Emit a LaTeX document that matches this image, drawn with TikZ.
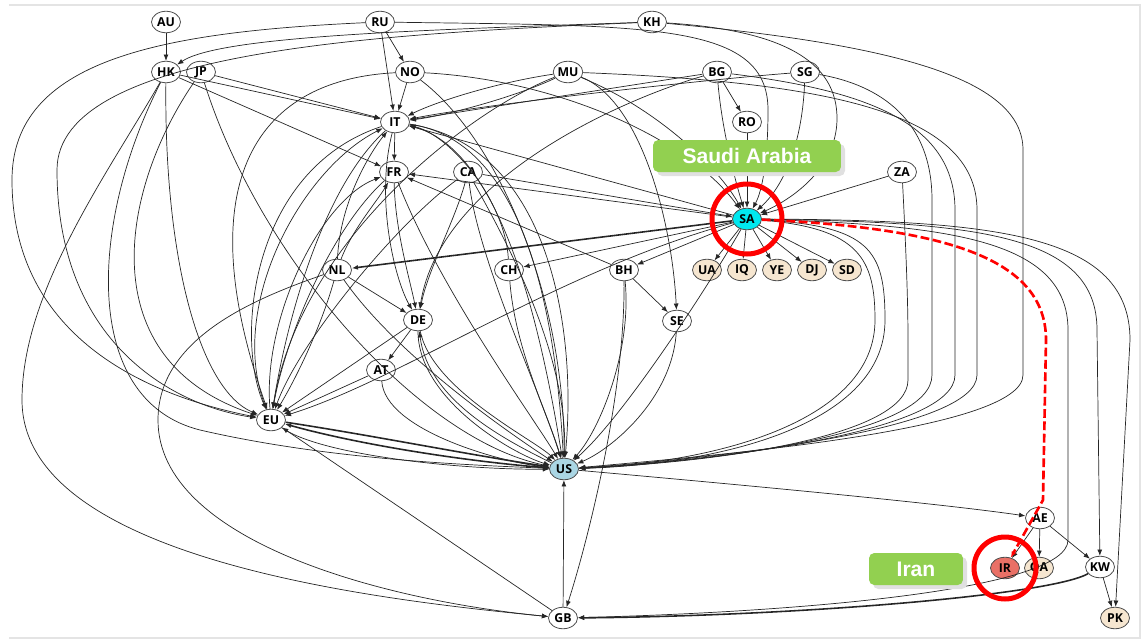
\documentclass[tikz,border=0pt]{standalone}
\usepackage{fontspec}
\setmainfont{Open Sans}
\newfontfamily\tagfont{Liberation Sans}
\usetikzlibrary{shapes.geometric, arrows.meta}
\definecolor{sacyan}{RGB}{0,232,240}
\definecolor{usblue}{RGB}{170,214,228}
\definecolor{irred}{RGB}{233,112,102}
\definecolor{paletan}{RGB}{246,230,208}
\definecolor{taggreen}{RGB}{146,208,80}
\definecolor{framegray}{RGB}{228,228,228}
\begin{document}
\begin{tikzpicture}[x=0.02cm, y=-0.02cm,
    country/.style={ellipse, draw=black!70, line width=0.45pt, fill=white,
        minimum width=0.58cm, minimum height=0.43cm, inner sep=0pt,
        font=\fontsize{7}{8}\selectfont\bfseries},
    tancountry/.style={country, fill=paletan},
    link/.style={-{Latex[length=3.6pt,width=2.8pt]}, line width=0.4pt, black!85},
    heavylink/.style={link, line width=0.9pt},
    tagbox/.style={fill=taggreen, rounded corners=3pt, text=white, inner sep=0pt,
        minimum height=0.64cm, font=\tagfont\fontsize{12}{14}\selectfont\bfseries},
    ring/.style={draw=red, line width=0.1cm},
    iranpath/.style={-{Latex[length=3.6pt,width=2.8pt]}, red, line width=1.5pt, dash pattern=on 5pt off 2pt}
]
    % Define page size (pixels of the reference)
    \useasboundingbox (0,0) rectangle (1147,643);
    \draw[framegray, line width=1.2pt] (9,5) -- (1140,5) -- (1140,638) -- (9,638);

    % Draw countries, row by row
    \node[country] (AU) at (166,22) {AU};
    \node[country] (RU) at (380,22) {RU};
    \node[country] (KH) at (652,22) {KH};
    \node[country] (HK) at (166,72) {HK};
    \node[country] (JP) at (201,72) {JP};
    \node[country] (NO) at (410,72) {NO};
    \node[country] (MU) at (568,72) {MU};
    \node[country] (BG) at (717,72) {BG};
    \node[country] (SG) at (805,72) {SG};
    \node[country] (IT) at (395,122) {IT};
    \node[country] (RO) at (747,122) {RO};
    \node[country] (FR) at (394,172) {FR};
    \node[country] (CA) at (468,172) {CA};
    \node[country] (ZA) at (902,172) {ZA};
    \node[country, fill=sacyan] (SA) at (747,219) {SA};
    \node[country] (NL) at (337,270) {NL};
    \node[country] (CH) at (509,270) {CH};
    \node[country] (BH) at (624,270) {BH};
    \node[tancountry] (UA) at (707,270) {UA};
    \node[tancountry] (IQ) at (742,270) {IQ};
    \node[tancountry] (YE) at (777,270) {YE};
    \node[tancountry] (DJ) at (812,270) {DJ};
    \node[tancountry] (SD) at (847,270) {SD};
    \node[country] (DE) at (418,320) {DE};
    \node[country] (SE) at (677,321) {SE};
    \node[country] (AT) at (381,370) {AT};
    \node[country] (EU) at (271,420) {EU};
    \node[country, fill=usblue] (US) at (564,469) {US};
    \node[country] (AE) at (1040,518) {AE};
    \node[country, fill=irred] (IR) at (1005,568) {IR};
    \node[tancountry] (QA) at (1039,568) {QA};
    \node[country] (KW) at (1100,567) {KW};
    \node[country] (GB) at (563,618) {GB};
    \node[tancountry] (PK) at (1115,618) {PK};

    % Top row
    \draw[link] (AU) -- (HK);
    \draw[link] (RU) -- (NO);
    \draw[link] (RU) -- (IT);
    \draw[link] (KH) .. controls (420,30) and (220,36) .. (HK);
    \draw[link] (RU) .. controls (160,32) and (12,60) .. (12,180) .. controls (12,350) and (170,400) .. (EU);
    \draw[link] (KH) .. controls (380,34) and (57,50) .. (57,170) .. controls (57,340) and (170,405) .. (EU);
    \draw[link] (RU) .. controls (650,26) and (768,22) .. (768,110) .. controls (768,170) and (760,195) .. (SA);
    \draw[link] (KH) .. controls (780,30) and (838,60) .. (837,120) .. controls (836,170) and (790,200) .. (SA);
    \draw[link] (KH) .. controls (900,45) and (1023,80) .. (1023,150) -- (1023,375) .. controls (1023,430) and (720,455) .. (US);

    % Second row
    \draw[link] (HK) -- (IT);
    \draw[link] (HK) -- (FR);
    \draw[link] (JP) -- (IT);
    \draw[link] (HK) .. controls (110,170) and (22,290) .. (22,400) .. controls (22,560) and (380,600) .. (GB);
    \draw[link] (HK) .. controls (164,260) and (200,390) .. (EU);
    \draw[link] (JP) .. controls (120,190) and (90,360) .. (EU);
    \draw[link] (JP) .. controls (260,260) and (420,440) .. (US);
    \draw[link] (HK) .. controls (90,220) and (80,400) .. (200,430) .. controls (330,460) and (470,465) .. (US);
    \draw[link] (NO) -- (IT);
    \draw[link] (NO) .. controls (250,80) and (190,190) .. (EU);
    \draw[link] (NO) .. controls (500,140) and (565,300) .. (US);
    \draw[link] (NO) .. controls (560,80) and (690,140) .. (SA);
    \draw[link] (MU) .. controls (500,82) and (440,100) .. (IT);
    \draw[link] (MU) .. controls (520,95) and (450,115) .. (IT);
    \draw[link] (MU) .. controls (470,110) and (300,240) .. (EU);
    \draw[link] (MU) .. controls (640,100) and (672,220) .. (SE);
    \draw[link] (MU) .. controls (660,110) and (720,170) .. (SA);
    \draw[link] (MU) .. controls (820,82) and (977,110) .. (977,210) -- (977,375) .. controls (977,430) and (720,458) .. (US);
    \draw[link] (BG) -- (RO);
    \draw[link] (RO) -- (SA);
    \draw[link] (BG) .. controls (722,130) and (735,180) .. (SA);
    \draw[link] (BG) .. controls (600,90) and (460,112) .. (IT);
    \draw[link] (BG) .. controls (620,100) and (440,180) .. (DE);
    \draw[link] (BG) .. controls (860,90) and (955,120) .. (955,210) -- (955,375) .. controls (955,432) and (720,460) .. (US);
    \draw[link] (SG) .. controls (700,80) and (480,105) .. (IT);
    \draw[link] (SG) .. controls (802,150) and (780,190) .. (SA);
    \draw[link] (SG) .. controls (880,85) and (932,120) .. (932,200) -- (932,375) .. controls (932,434) and (720,461) .. (US);
    \draw[link] (ZA) -- (SA);
    \draw[link] (ZA) .. controls (906,250) and (908,300) .. (908,340) -- (908,380) .. controls (908,436) and (720,462) .. (US);

    % IT, FR, CA
    \draw[link] (IT) -- (FR);
    \draw[link] (SA) -- (IT);
    \draw[link] (SA) -- (FR);
    \draw[link] (CA) -- (SA);
    \draw[link] (IT) .. controls (375,200) and (395,280) .. (DE);
    \draw[link] (FR) .. controls (395,230) and (410,280) .. (DE);
    \draw[link] (CA) .. controls (455,220) and (428,270) .. (DE);
    \draw[link] (IT) .. controls (250,170) and (235,340) .. (EU);
    \draw[link] (IT) .. controls (320,190) and (285,330) .. (EU);
    \draw[link] (EU) .. controls (225,310) and (300,170) .. (IT);
    \draw[link] (EU) .. controls (262,320) and (320,200) .. (FR);
    \draw[link] (FR) .. controls (330,230) and (285,340) .. (EU);
    \draw[link] (CA) .. controls (400,220) and (300,340) .. (EU);
    \draw[link] (IT) .. controls (520,140) and (555,300) .. (US);
    \draw[link] (IT) .. controls (545,145) and (578,320) .. (US);
    \draw[link] (US) .. controls (540,320) and (500,150) .. (IT);
    \draw[link] (FR) .. controls (440,290) and (535,420) .. (US);
    \draw[link] (CA) .. controls (478,260) and (540,390) .. (US);
    \draw[link] (CA) .. controls (500,230) and (568,350) .. (US);

    % Middle rows
    \draw[heavylink] (SA) -- (NL);
    \draw[link] (SA) -- (CH);
    \draw[link] (SA) -- (BH);
    \draw[link] (SA) .. controls (560,270) and (400,380) .. (EU);
    \draw[link] (SA) .. controls (700,300) and (620,420) .. (US);
    \foreach \c in {UA,IQ,YE,DJ,SD}
        \draw[link] (SA) -- (\c);
    \draw[link] (NL) .. controls (340,200) and (372,150) .. (IT);
    \draw[link] (NL) .. controls (352,230) and (378,200) .. (FR);
    \draw[link] (NL) -- (DE);
    \draw[link] (NL) .. controls (320,330) and (295,380) .. (EU);
    \draw[link] (NL) .. controls (400,360) and (520,440) .. (US);
    \draw[link] (NL) .. controls (250,300) and (158,340) .. (158,420) .. controls (158,540) and (380,600) .. (GB);
    \draw[link] (CH) .. controls (505,200) and (450,135) .. (IT);
    \draw[link] (CH) .. controls (515,350) and (550,420) .. (US);
    \draw[link] (BH) -- (FR);
    \draw[link] (BH) -- (SE);
    \draw[link] (BH) .. controls (632,350) and (600,430) .. (US);
    \draw[link] (BH) .. controls (625,400) and (585,550) .. (GB);
    \draw[link] (SE) .. controls (672,400) and (610,450) .. (US);
    \draw[link] (DE) -- (AT);
    \draw[link] (DE) -- (EU);
    \draw[link] (AT) -- (EU);
    \draw[link] (DE) .. controls (418,400) and (515,455) .. (US);
    \draw[link] (DE) .. controls (432,390) and (535,440) .. (US);
    \draw[link] (US) .. controls (505,440) and (428,400) .. (DE);
    \draw[link] (AT) .. controls (385,430) and (500,462) .. (US);

    % EU, US, GB
    \draw[heavylink] (EU) .. controls (370,435) and (470,455) .. (US);
    \draw[heavylink] (US) .. controls (470,462) and (360,445) .. (EU);
    \draw[link] (EU) .. controls (320,455) and (460,470) .. (US);
    \draw[link] (GB) -- (US);
    \draw[link] (GB) -- (EU);
    \draw[link] (US) .. controls (800,490) and (950,505) .. (AE);

    % Right side
    \draw[link] (SA) .. controls (860,228) and (875,260) .. (875,320) .. controls (875,420) and (720,462) .. (US);
    \draw[link] (SA) .. controls (870,226) and (885,250) .. (885,320) .. controls (885,425) and (720,464) .. (US);
    \draw[link] (SA) .. controls (950,225) and (1068,240) .. (1068,330) -- (1068,540) .. controls (1068,590) and (800,612) .. (GB);
    \draw[link] (SA) .. controls (980,222) and (1097,235) .. (1097,330) -- (KW);
    \draw[link] (SA) .. controls (1000,220) and (1130,235) .. (1130,340) -- (PK);
    \draw[heavylink] (KW) .. controls (1050,595) and (800,616) .. (GB);
    \draw[link] (AE) -- (IR);
    \draw[link] (AE) -- (QA);
    \draw[link] (AE) -- (KW);
    \draw[link] (KW) -- (PK);

    % Labels and highlights
    \fill[black!12, rounded corners=3pt] (657,144) rectangle (845,176);
    \node[tagbox, minimum width=3.76cm] (satag) at (747,156) {Saudi Arabia};
    \fill[black!12, rounded corners=3pt] (873,557) rectangle (967,589);
    \node[tagbox, minimum width=1.88cm] (irtag) at (916,569) {Iran};
    \draw[ring] (SA) circle[radius=35];
    \draw[ring] (IR) circle[radius=31];
    \draw[iranpath] (SA) .. controls (950,228) and (1046,260) .. (1046,340) -- (1043,500) -- (IR);
\end{tikzpicture}
\end{document}
